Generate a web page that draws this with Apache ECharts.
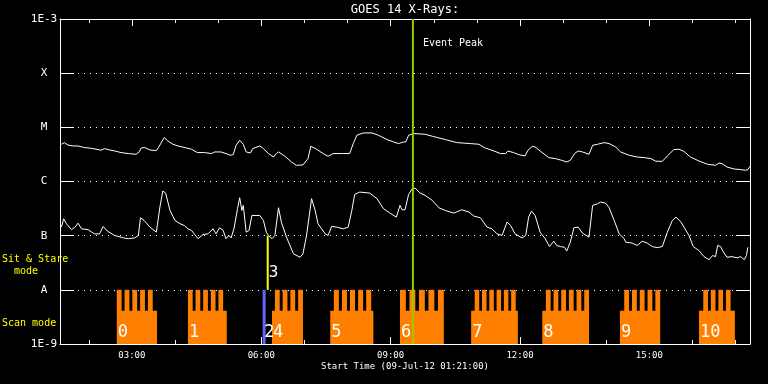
<!DOCTYPE html>
<html><head><meta charset="utf-8">
<script src="https://cdn.jsdelivr.net/npm/echarts@6/dist/echarts.min.js"></script>
<style>html,body{margin:0;padding:0;background:#000;}#c{width:768px;height:384px;}</style>
</head><body><div id="c"></div>
<script>
// ---------- data ----------
const chartTitle = 'GOES 14 X-Rays:';
const xTitle = 'Start Time (09-Jul-12 01:21:00)';
const timeMin = 80, timeMax = 1040;            // minutes after 00:00, 09-Jul-12
const majorTicks = [180, 360, 540, 720, 900];   // 03:00 ... 15:00
const minorTicks = [120, 180, 240, 300, 360, 420, 480, 540, 600, 660, 720, 780, 840, 900, 960, 1020];
const yTickLabels = ['1E-9', 'A', 'B', 'C', 'M', 'X', '1E-3'];
const fluxMin = 1e-9, fluxMax = 1e-3;

// long channel (1-8 A), W/m^2 (mantissa x 1e-6)
const longTime = [82,86,91,98,105,114,124,133,137,142,147,156,165,175,186,190,193,198,205,214,217,225,230,237,244,254,263,271,281,291,295,304,311,317,321,325,330,335,339,345,348,358,363,370,377,381,384,386,393,402,409,418,425,429,437,446,453,460,474,483,488,493,502,514,523,535,544,551,558,561,565,572,588,598,616,632,651,663,670,681,693,700,703,711,718,727,731,737,741,748,760,769,778,785,790,796,801,807,816,821,828,837,844,853,860,872,883,893,902,909,918,925,934,941,948,957,969,981,992,997,1001,1008,1018,1027,1034,1037,1040];
const longFluxE6 = [4.87,5.23,4.72,4.53,4.53,4.23,4.10,3.88,3.77,4.05,3.88,3.66,3.42,3.28,3.18,3.51,4.16,4.23,3.82,3.72,4.23,6.48,5.60,4.87,4.53,4.23,3.94,3.42,3.42,3.28,3.51,3.51,3.28,3.05,3.14,4.66,5.77,4.87,3.51,3.36,4.05,4.53,4.05,3.28,2.83,3.28,3.51,3.28,2.92,2.29,1.99,2.02,2.65,4.47,3.94,3.28,2.92,3.28,3.28,3.28,5.01,7.14,7.88,7.88,7.14,5.95,5.37,5.01,5.37,5.37,7.14,7.68,7.45,6.84,5.95,5.23,5.01,4.87,4.23,3.77,3.28,3.28,3.66,3.42,3.14,2.96,3.77,4.47,4.34,3.66,2.76,2.65,2.46,2.29,2.46,3.28,3.66,3.51,3.18,4.66,4.87,5.23,5.01,4.34,3.51,3.05,2.83,2.76,2.65,2.36,2.36,2.96,3.88,3.94,3.61,2.83,2.39,2.08,1.99,2.19,2.14,1.85,1.70,1.66,1.61,1.66,1.91];

// short channel (0.5-4 A), W/m^2 (mantissa x 1e-7)
const shortTime = [82,85,89,96,101,105,110,119,128,135,140,146,156,168,175,184,189,192,197,205,214,219,223,227,233,240,247,253,258,263,272,279,286,293,297,302,307,311,315,318,322,327,330,333,335,339,343,347,354,358,363,367,370,375,379,384,388,395,405,414,418,423,430,435,439,449,453,458,465,474,481,486,490,497,511,521,530,539,548,553,556,560,565,570,574,581,588,598,607,616,628,639,649,656,665,674,681,688,695,702,707,713,723,728,732,736,741,748,755,761,767,771,776,782,785,790,795,801,807,816,821,828,832,839,844,851,858,865,867,876,883,890,897,904,911,918,925,932,937,944,955,961,969,976,983,988,992,995,999,1003,1008,1015,1022,1027,1032,1035,1037];
const shortFluxE7 = [1.44,2.05,1.66,1.29,1.44,1.70,1.34,1.29,1.08,1.08,1.48,1.21,1.01,0.91,0.88,0.91,1.01,2.14,1.91,1.44,1.16,3.37,6.66,6.11,2.92,1.91,1.66,1.54,1.34,1.25,0.88,1.05,1.08,1.34,1.08,1.40,1.25,0.88,1.01,0.91,1.34,3.15,5.02,2.92,3.62,1.16,1.25,2.36,2.36,2.36,1.91,1.16,1.01,0.88,1.01,3.28,1.78,0.94,0.46,0.40,0.46,1.01,4.82,2.92,1.66,1.08,1.01,1.48,1.44,1.34,1.44,2.92,5.78,6.38,6.11,4.82,3.15,2.61,2.20,3.62,3.01,3.01,5.78,7.37,7.56,6.11,5.54,4.48,3.28,2.92,2.61,3.01,2.72,2.29,2.14,1.44,1.34,1.08,1.01,1.78,1.54,1.08,0.91,1.01,2.20,2.84,2.36,1.16,0.88,0.63,0.79,0.66,0.63,0.61,0.52,0.76,1.40,1.44,1.11,0.94,3.62,3.89,4.17,3.99,3.28,1.91,1.08,0.88,0.76,0.73,0.66,0.79,0.73,0.63,0.60,0.63,1.16,1.91,2.20,1.78,1.01,0.63,0.53,0.41,0.36,0.43,0.41,0.66,0.63,0.50,0.40,0.41,0.39,0.41,0.36,0.43,0.61];

// scan-mode blocks (minutes)
const scanLabels     = ['0','1','4','5','6','7','8','9','10'];
const scanStart      = [159,258,375,456,553,652,751,859,969];
const scanEnd        = [215,312,418,516,614,717,816,915,1019];
const scanTeethStart = [159,258,379,461,553,657,756,865,975];
const scanTeethEnd   = [209,307,418,513,614,714,816,915,1013];
const scanTeethCount = [5,5,4,5,5,6,6,5,4];
const scanBaseLevel = 4.1e-9, scanTopLevel = 1e-8;

// other observation markers (minutes)
const eventPeakTime = 571;     // 09:31
const mode2Time = 364;         // blue marker "2"
const sitStareTime = 369;      // sit & stare "3"

// ---------- chart ----------
const FONT = 'DejaVu Sans Mono';
const pad = n => (n < 10 ? '0' : '') + n;
const fmtTime = v => pad(Math.floor(v / 60)) + ':' + pad(Math.round(v % 60));
const longData = longTime.map((t, i) => [t, longFluxE6[i] * 1e-6]);
const shortData = shortTime.map((t, i) => [t, shortFluxE7[i] * 1e-7]);
const scanData = scanStart.map((s, i) => [s, scanEnd[i], scanTeethStart[i], scanTeethEnd[i], scanTeethCount[i]]);

const chart = echarts.init(document.getElementById('c'), null, {renderer: 'canvas'});
const white = '#ffffff';
const xBase = {type: 'value', min: timeMin, max: timeMax, splitLine: {show: false}, gridIndex: 0};

const markerDefs = [
  {t: eventPeakTime, lo: fluxMin, hi: fluxMax, color: '#99cc00', w: 2},
  {t: mode2Time, lo: fluxMin, hi: 1e-8, color: '#6464ff', w: 3, label: '2'},
  {t: sitStareTime, lo: 1e-8, hi: 1e-7, color: '#ffff00', w: 2, label: '3'}
];

chart.setOption({
  backgroundColor: '#000',
  animation: false,
  grid: {left: 60, right: 18, top: 19, bottom: 40, containLabel: false},
  xAxis: [
    Object.assign({}, xBase, {position: 'bottom',
      axisLine: {show: true, onZero: false, lineStyle: {color: white, width: 1}},
      axisTick: {show: true, inside: true, length: 7, customValues: majorTicks, lineStyle: {color: white}},
      axisLabel: {show: true, customValues: majorTicks, formatter: fmtTime, color: white, fontFamily: FONT, fontSize: 9, margin: 7}}),
    Object.assign({}, xBase, {position: 'bottom',
      axisLine: {show: false, onZero: false},
      axisTick: {show: true, inside: true, length: 4, customValues: minorTicks, lineStyle: {color: white}},
      axisLabel: {show: false}}),
    Object.assign({}, xBase, {position: 'top',
      axisLine: {show: true, onZero: false, lineStyle: {color: white, width: 1}},
      axisTick: {show: true, inside: true, length: 7, customValues: majorTicks, lineStyle: {color: white}},
      axisLabel: {show: false}}),
    Object.assign({}, xBase, {position: 'top',
      axisLine: {show: false, onZero: false},
      axisTick: {show: true, inside: true, length: 4, customValues: minorTicks, lineStyle: {color: white}},
      axisLabel: {show: false}})
  ],
  yAxis: [
    {type: 'log', logBase: 10, min: fluxMin, max: fluxMax, position: 'left',
      axisLine: {show: true, onZero: false, lineStyle: {color: white, width: 1}},
      axisTick: {show: true, inside: true, length: 14, lineStyle: {color: white}},
      axisLabel: {show: true, color: white, fontFamily: FONT, fontSize: 11, align: 'center', margin: 16,
        formatter: v => yTickLabels[Math.round(Math.log10(v)) + 9]},
      splitLine: {show: true, lineStyle: {color: white, width: 1, type: [1, 5]}}},
    {type: 'log', logBase: 10, min: fluxMin, max: fluxMax, position: 'right',
      axisLine: {show: true, onZero: false, lineStyle: {color: white, width: 1}},
      axisTick: {show: true, inside: true, length: 14, lineStyle: {color: white}},
      axisLabel: {show: false}, splitLine: {show: false}}
  ],
  graphic: [
    {type: 'text', style: {text: chartTitle, x: 405, y: 9.5, fill: white, font: '12px ' + FONT, textAlign: 'center', textVerticalAlign: 'middle'}},
    {type: 'text', style: {text: xTitle, x: 405, y: 367, fill: white, font: '9px ' + FONT, textAlign: 'center', textVerticalAlign: 'middle'}},
    {type: 'text', style: {text: 'Sit & Stare', x: 2, y: 259, fill: '#ffff00', font: '10px ' + FONT, textAlign: 'left', textVerticalAlign: 'middle'}},
    {type: 'text', style: {text: 'mode', x: 14, y: 271, fill: '#ffff00', font: '10px ' + FONT, textAlign: 'left', textVerticalAlign: 'middle'}},
    {type: 'text', style: {text: 'Scan mode', x: 2, y: 323.5, fill: '#ffff00', font: '10px ' + FONT, textAlign: 'left', textVerticalAlign: 'middle'}}
  ],
  series: [
    {type: 'custom', name: 'scan', xAxisIndex: 0, yAxisIndex: 0, z: 2, clip: true,
      data: scanData,
      renderItem: function (params, api) {
        const s = api.value(0), e = api.value(1), ts = api.value(2), te = api.value(3), n = api.value(4);
        const pb = api.coord([s, fluxMin]);
        const pe = api.coord([e, scanBaseLevel]);
        const pt = api.coord([ts, scanTopLevel]);
        const pte = api.coord([te, scanTopLevel]);
        const children = [{type: 'rect', shape: {x: pb[0], y: pe[1], width: pe[0] - pb[0], height: pb[1] - pe[1]}, style: {fill: '#ff8000'}}];
        const period = (pte[0] - pt[0]) / (n - 0.38);
        const w = 0.62 * period;
        for (let i = 0; i < n; i++) {
          children.push({type: 'rect', shape: {x: pt[0] + i * period, y: pt[1], width: w, height: pe[1] - pt[1] + 0.5}, style: {fill: '#ff8000'}});
        }
        children.push({type: 'text', style: {text: scanLabels[params.dataIndex], x: pb[0] + 1, y: pb[1] - 11, fill: white, font: '17px ' + FONT, textAlign: 'left', textVerticalAlign: 'middle'}});
        return {type: 'group', children: children};
      }},
    {type: 'line', name: 'long', xAxisIndex: 0, yAxisIndex: 0, z: 3, data: longData, showSymbol: false, symbol: 'none',
      lineStyle: {color: white, width: 1}, itemStyle: {color: white}},
    {type: 'line', name: 'short', xAxisIndex: 0, yAxisIndex: 0, z: 3, data: shortData, showSymbol: false, symbol: 'none',
      lineStyle: {color: white, width: 1}, itemStyle: {color: white}},
    {type: 'custom', name: 'markers', xAxisIndex: 0, yAxisIndex: 0, z: 4, clip: false,
      data: markerDefs.map(m => [m.t, m.lo, m.hi]),
      renderItem: function (params, api) {
        const m = markerDefs[params.dataIndex];
        const a = api.coord([api.value(0), api.value(1)]);
        const b = api.coord([api.value(0), api.value(2)]);
        const children = [{type: 'line', shape: {x1: a[0], y1: a[1], x2: b[0], y2: b[1]}, style: {stroke: m.color, lineWidth: m.w}}];
        if (params.dataIndex === 0) {
          children.push({type: 'text', style: {text: 'Event Peak', x: a[0] + 10, y: b[1] + 24, fill: white, font: '10px ' + FONT, textAlign: 'left', textVerticalAlign: 'middle'}});
        } else if (m.label === '2') {
          children.push({type: 'text', style: {text: '2', x: a[0], y: a[1] - 11, fill: white, font: '17px ' + FONT, textAlign: 'left', textVerticalAlign: 'middle'}});
        } else {
          children.push({type: 'text', style: {text: '3', x: a[0] + 1, y: a[1] - 17, fill: white, font: '16px ' + FONT, textAlign: 'left', textVerticalAlign: 'middle'}});
        }
        return {type: 'group', children: children};
      }}
  ]
});
</script></body></html>
